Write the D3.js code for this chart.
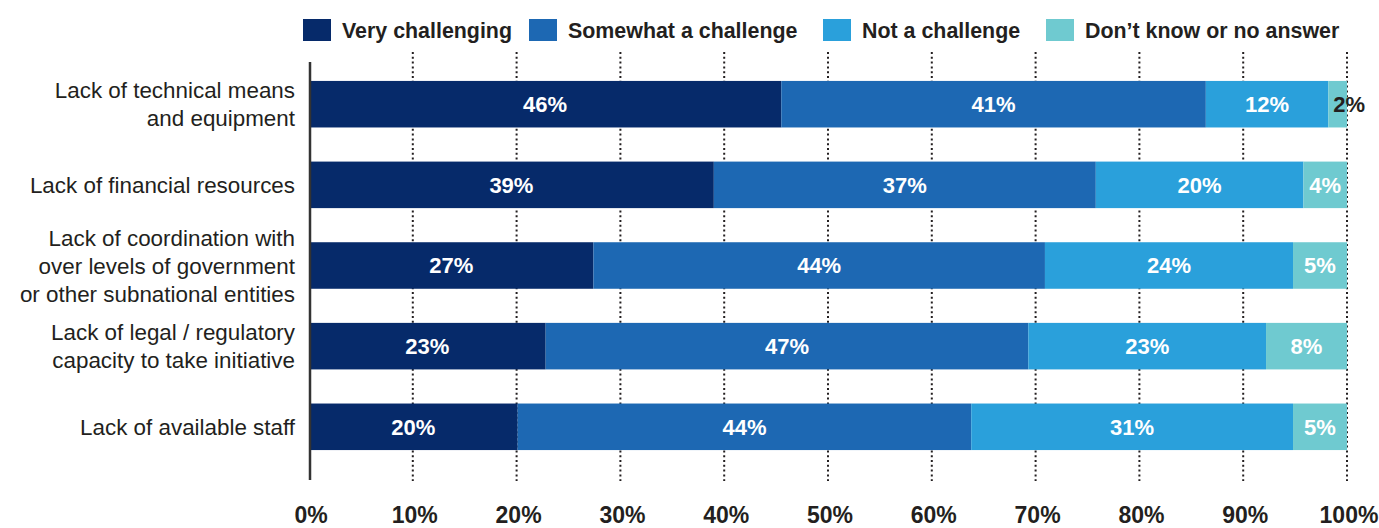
<!DOCTYPE html>
<html>
<head>
<meta charset="utf-8">
<style>
  body { margin: 0; background: #fff; }
  svg text { font-family: "Liberation Sans", Arial, sans-serif; fill: #231f20; }
</style>
<script src="https://d3js.org/d3.v7.min.js"></script>
</head>
<body>
<script>
// categories, top to bottom (each entry = lines of the label)
const categories = [
  ["Lack of technical means", "and equipment"],
  ["Lack of financial resources"],
  ["Lack of coordination with", "over levels of government", "or other subnational entities"],
  ["Lack of legal / regulatory", "capacity to take initiative"],
  ["Lack of available staff"]
];
const seriesNames = ["Very challenging", "Somewhat a challenge", "Not a challenge", "Don\u2019t know or no answer"];
const seriesColors = ["#062a6a", "#1d68b3", "#2aa0db", "#6fcad0"];

// shares in %, one array per series, same order as categories
const veryChallenging = [45.5, 39.0, 27.4, 22.8, 20.1];
const somewhatChallenge = [40.9, 36.8, 43.5, 46.5, 43.7];
const notChallenge = [11.8, 20.0, 23.9, 22.9, 31.0];
const dontKnow = [1.8, 4.2, 5.2, 7.8, 5.2];
const series = [veryChallenging, somewhatChallenge, notChallenge, dontKnow];

const xTicks = [0, 10, 20, 30, 40, 50, 60, 70, 80, 90, 100];

const W = 1379, H = 528;
const svg = d3.select("body").append("svg").attr("width", W).attr("height", H);

const x = d3.scaleLinear().domain([0, 100]).range([309, 1347]);
const y = d3.scaleBand().domain(d3.range(categories.length))
  .range([64, 467]).paddingInner(0.423).paddingOuter(0.21);

// dotted gridlines
svg.append("g").selectAll("line").data(xTicks.slice(1)).join("line")
  .attr("x1", d => x(d)).attr("x2", d => x(d))
  .attr("y1", 52).attr("y2", 481)
  .attr("stroke", "#231f20").attr("stroke-width", 2)
  .attr("stroke-dasharray", "2,2.8");

// stacked bars
const rows = categories.map((c, i) => {
  let acc = 0;
  return series.map((s, k) => {
    const seg = { row: i, k: k, x0: acc, x1: acc + s[i], v: s[i] };
    acc += s[i];
    return seg;
  });
}).flat();

svg.append("g").selectAll("rect").data(rows).join("rect")
  .attr("x", d => x(d.x0))
  .attr("y", d => y(d.row))
  .attr("width", d => x(d.x1) - x(d.x0))
  .attr("height", y.bandwidth())
  .attr("fill", d => seriesColors[d.k]);

// value labels
svg.append("g").selectAll("text").data(rows).join("text")
  .attr("x", d => d.v < 3 ? x(d.x0) + 5 : (x(d.x0) + x(d.x1)) / 2)
  .attr("y", d => y(d.row) + y.bandwidth() / 2)
  .attr("dy", "0.36em")
  .attr("text-anchor", d => d.v < 3 ? "start" : "middle")
  .style("font-size", "22px").style("font-weight", "bold")
  .style("fill", d => d.v < 3 ? "#231f20" : "#fff")
  .text(d => Math.round(d.v) + "%");

// y axis line
svg.append("line")
  .attr("x1", 310).attr("x2", 310).attr("y1", 62).attr("y2", 480)
  .attr("stroke", "#333").attr("stroke-width", 2.5);

// category labels
const lineH = 28;
svg.append("g").selectAll("text").data(categories).join("text")
  .attr("x", 295)
  .attr("y", (d, i) => y(i) + y.bandwidth() / 2 - (d.length - 1) * lineH / 2)
  .attr("text-anchor", "end")
  .style("font-size", "22.4px")
  .each(function (d) {
    d3.select(this).selectAll("tspan").data(d).join("tspan")
      .attr("x", 295)
      .attr("dy", (t, j) => j === 0 ? "0.36em" : lineH)
      .text(t => t);
  });

// x axis labels
svg.append("g").selectAll("text").data(xTicks).join("text")
  .attr("x", d => x(d) + 2)
  .attr("y", 523)
  .attr("text-anchor", "middle")
  .style("font-size", "23px").style("font-weight", "bold")
  .text(d => d + "%");

// legend
const legendX = [303, 529, 823, 1046];
const lg = svg.append("g").selectAll("g").data(seriesNames).join("g")
  .attr("transform", (d, i) => `translate(${legendX[i]},19)`);
lg.append("rect").attr("width", 28).attr("height", 22)
  .attr("fill", (d, i) => seriesColors[i]);
lg.append("text").attr("x", 39).attr("y", 19)
  .style("font-size", "21.4px").style("font-weight", "bold")
  .text(d => d);
</script>
</body>
</html>
